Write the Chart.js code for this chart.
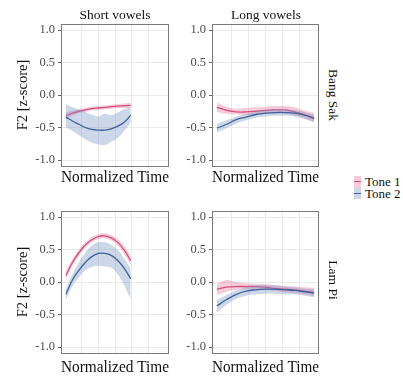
<!DOCTYPE html>
<html lang="en">
<head>
<meta charset="UTF-8">
<title>F2 trajectories</title>
<script src="https://cdn.jsdelivr.net/npm/chart.js"></script>
<style>
  body { margin: 0; background: #fff; font-family: "Liberation Serif", serif; color: #111; }
  #wrap { position: relative; width: 403px; height: 378px; overflow: hidden; }
  canvas { position: absolute; }
  .strip { position: absolute; font-size: 13.5px; white-space: nowrap; transform: translate(-50%, -50%); }
  .side { transform: translate(-50%, -50%) rotate(90deg); }
  .legend { position: absolute; left: 354px; top: 176px; font-size: 13px; }
  .row { height: 11.5px; line-height: 11.5px; white-space: nowrap; }
  .key { display: inline-block; position: relative; width: 7px; height: 11.5px; vertical-align: top; margin-right: 4px; }
  .key span { position: absolute; left: 0; right: 0; top: 5px; height: 1.3px; }
</style>
</head>
<body>
<div id="wrap">
  <canvas id="bsShort" width="175" height="190" style="left:0;top:0"></canvas>
  <canvas id="bsLong" width="150" height="190" style="left:175px;top:0"></canvas>
  <canvas id="lpShort" width="175" height="191" style="left:0;top:187px"></canvas>
  <canvas id="lpLong" width="150" height="191" style="left:175px;top:187px"></canvas>

  <div class="strip" style="left:115px;top:15px">Short vowels</div>
  <div class="strip" style="left:266px;top:15px">Long vowels</div>
  <div class="strip side" style="left:333px;top:95px">Bang Sak</div>
  <div class="strip side" style="left:333px;top:280px">Lam Pi</div>

  <div class="legend">
    <div class="row"><i class="key" style="background:rgba(236,130,165,0.42)"><span style="background:#d4507c"></span></i>Tone 1</div>
    <div class="row"><i class="key" style="background:rgba(120,150,200,0.38)"><span style="background:#40609a"></span></i>Tone 2</div>
  </div>
</div>

<script>
// normalized time positions of the smoothed curves
const xLong = [0, 0.1, 0.2, 0.3, 0.4, 0.5, 0.6, 0.7, 0.8, 0.9, 1.0];
const xShort = [0, 0.066, 0.132, 0.198, 0.264, 0.33, 0.396, 0.462, 0.528, 0.594, 0.66];
const xGrid = [0.154, 0.327, 0.5, 0.673, 0.846];
const yGrid = [-1, -0.75, -0.5, -0.25, 0, 0.25, 0.5, 0.75, 1];
const yLabels = [-1, -0.5, 0, 0.5, 1];

// Bang Sak, short vowels
const bsShortT1 = [-0.32, -0.28, -0.25, -0.23, -0.21, -0.20, -0.19, -0.18, -0.17, -0.165, -0.16];
const bsShortT1Hi = [-0.27, -0.24, -0.22, -0.20, -0.18, -0.17, -0.16, -0.15, -0.14, -0.13, -0.12];
const bsShortT1Lo = [-0.37, -0.32, -0.28, -0.26, -0.24, -0.23, -0.22, -0.21, -0.20, -0.20, -0.20];
const bsShortT2 = [-0.34, -0.40, -0.45, -0.50, -0.53, -0.54, -0.54, -0.52, -0.48, -0.42, -0.31];
const bsShortT2Hi = [-0.14, -0.19, -0.22, -0.26, -0.30, -0.33, -0.29, -0.31, -0.27, -0.22, -0.19];
const bsShortT2Lo = [-0.50, -0.55, -0.62, -0.68, -0.73, -0.76, -0.77, -0.72, -0.66, -0.55, -0.43];

// Bang Sak, long vowels
const bsLongT1 = [-0.19, -0.235, -0.26, -0.26, -0.25, -0.235, -0.23, -0.23, -0.26, -0.30, -0.35];
const bsLongT1Hi = [-0.12, -0.18, -0.21, -0.20, -0.19, -0.18, -0.17, -0.17, -0.19, -0.24, -0.28];
const bsLongT1Lo = [-0.26, -0.29, -0.30, -0.31, -0.31, -0.29, -0.29, -0.29, -0.32, -0.36, -0.42];
const bsLongT2 = [-0.51, -0.45, -0.38, -0.34, -0.30, -0.28, -0.27, -0.27, -0.28, -0.31, -0.36];
const bsLongT2Hi = [-0.44, -0.39, -0.33, -0.29, -0.25, -0.23, -0.22, -0.22, -0.23, -0.26, -0.30];
const bsLongT2Lo = [-0.58, -0.51, -0.44, -0.39, -0.35, -0.33, -0.32, -0.32, -0.33, -0.37, -0.42];

// Lam Pi, short vowels
const lpShortT1 = [0.10, 0.30, 0.45, 0.57, 0.65, 0.70, 0.71, 0.68, 0.61, 0.49, 0.33];
const lpShortT1Hi = [0.17, 0.35, 0.50, 0.61, 0.69, 0.74, 0.75, 0.72, 0.66, 0.55, 0.40];
const lpShortT1Lo = [0.03, 0.25, 0.40, 0.53, 0.61, 0.66, 0.67, 0.64, 0.56, 0.43, 0.26];
const lpShortT2 = [-0.19, 0.03, 0.18, 0.30, 0.39, 0.44, 0.44, 0.41, 0.33, 0.21, 0.05];
const lpShortT2Hi = [-0.11, 0.12, 0.30, 0.45, 0.56, 0.61, 0.61, 0.57, 0.49, 0.36, 0.20];
const lpShortT2Lo = [-0.28, -0.06, 0.07, 0.18, 0.23, 0.25, 0.24, 0.22, 0.12, -0.05, -0.27];

// Lam Pi, long vowels
const lpLongT1 = [-0.11, -0.08, -0.07, -0.07, -0.07, -0.08, -0.10, -0.11, -0.12, -0.14, -0.16];
const lpLongT1Hi = [-0.02, 0.03, 0.00, -0.02, -0.03, -0.03, -0.05, -0.06, -0.07, -0.08, -0.09];
const lpLongT1Lo = [-0.20, -0.15, -0.12, -0.11, -0.11, -0.12, -0.14, -0.16, -0.17, -0.19, -0.22];
const lpLongT2 = [-0.37, -0.27, -0.19, -0.14, -0.12, -0.11, -0.11, -0.12, -0.13, -0.15, -0.17];
const lpLongT2Hi = [-0.28, -0.20, -0.13, -0.08, -0.05, -0.05, -0.05, -0.07, -0.08, -0.10, -0.11];
const lpLongT2Lo = [-0.47, -0.35, -0.26, -0.21, -0.19, -0.18, -0.18, -0.19, -0.19, -0.21, -0.23];

const t1Line = '#d4507c', t1Band = 'rgba(236,130,165,0.42)';
const t2Line = '#40609a', t2Band = 'rgba(120,150,200,0.38)';

const serif = '"Liberation Serif", serif';

// full rectangle round each panel, like theme_bw
const panelBorder = {
  id: 'panelBorder',
  afterDraw(chart) {
    const { ctx, chartArea: a } = chart;
    ctx.save();
    ctx.strokeStyle = '#7a7a7a';
    ctx.lineWidth = 1;
    ctx.strokeRect(Math.round(a.left) + 0.5, Math.round(a.top) + 0.5, Math.round(a.width) - 1, Math.round(a.height) - 1);
    ctx.restore();
  }
};

function pts(xs, ys) {
  return xs.map((x, i) => ({ x: x, y: ys[i] }));
}

function band(xs, hi, lo, color) {
  return [
    { data: pts(xs, hi), fill: '+1', backgroundColor: color, borderWidth: 0, pointRadius: 0, tension: 0.4 },
    { data: pts(xs, lo), fill: false, borderWidth: 0, pointRadius: 0, tension: 0.4 }
  ];
}

function line(xs, ys, color) {
  return { data: pts(xs, ys), borderColor: color, borderWidth: 1.3, pointRadius: 0, fill: false, tension: 0.4 };
}

function makePanel(id, xs, s, left, bottomPad) {
  const axisW = left ? 61 : 37;
  // first dataset is drawn on top
  const datasets = [
    line(xs, s.t2, t2Line),
    ...band(xs, s.t2Hi, s.t2Lo, t2Band),
    line(xs, s.t1, t1Line),
    ...band(xs, s.t1Hi, s.t1Lo, t1Band)
  ];
  new Chart(document.getElementById(id), {
    type: 'line',
    data: { datasets: datasets },
    plugins: [panelBorder],
    options: {
      responsive: false,
      animation: false,
      devicePixelRatio: 1,
      layout: { padding: { left: 0, right: 6, top: 23.5, bottom: 0 } },
      plugins: { legend: { display: false }, tooltip: { enabled: false } },
      scales: {
        x: {
          type: 'linear',
          min: -0.05,
          max: 1.05,
          afterBuildTicks: sc => { sc.ticks = xGrid.map(v => ({ value: v })); },
          afterFit: sc => { sc.height = sc.chart.height - 23.5 - 143; },
          ticks: { display: false },
          grid: { color: '#ebebeb', lineWidth: 1, drawTicks: false },
          border: { display: false },
          title: {
            display: true,
            text: 'Normalized Time',
            color: '#111',
            font: { family: serif, size: 16, lineHeight: 1 },
            padding: { top: 0, bottom: bottomPad }
          }
        },
        y: {
          min: -1.1,
          max: 1.1,
          afterBuildTicks: sc => { sc.ticks = yGrid.map(v => ({ value: v })); },
          afterFit: sc => { sc.width = axisW; },
          ticks: {
            padding: 3,
            color: '#4d4d4d',
            font: { family: serif, size: 12.5 },
            callback: v => yLabels.includes(v) ? v.toFixed(1) : ''
          },
          grid: {
            color: c => yLabels.includes(c.tick.value) ? '#ebebeb' : '#f3f3f3',
            lineWidth: 1,
            tickLength: 3,
            tickColor: c => yLabels.includes(c.tick.value) ? '#666' : 'rgba(0,0,0,0)'
          },
          border: { display: false },
          title: {
            display: left,
            text: 'F2 [z-score]',
            color: '#111',
            font: { family: serif, size: 14.5, lineHeight: 1 },
            padding: { top: 15.5, bottom: 0 }
          }
        }
      }
    }
  });
}

makePanel('bsShort', xShort, { t1: bsShortT1, t1Hi: bsShortT1Hi, t1Lo: bsShortT1Lo, t2: bsShortT2, t2Hi: bsShortT2Hi, t2Lo: bsShortT2Lo }, true, 4.5);
makePanel('bsLong', xLong, { t1: bsLongT1, t1Hi: bsLongT1Hi, t1Lo: bsLongT1Lo, t2: bsLongT2, t2Hi: bsLongT2Hi, t2Lo: bsLongT2Lo }, false, 4.5);
makePanel('lpShort', xShort, { t1: lpShortT1, t1Hi: lpShortT1Hi, t1Lo: lpShortT1Lo, t2: lpShortT2, t2Hi: lpShortT2Hi, t2Lo: lpShortT2Lo }, true, 2.5);
makePanel('lpLong', xLong, { t1: lpLongT1, t1Hi: lpLongT1Hi, t1Lo: lpLongT1Lo, t2: lpLongT2, t2Hi: lpLongT2Hi, t2Lo: lpLongT2Lo }, false, 2.5);
</script>
</body>
</html>
